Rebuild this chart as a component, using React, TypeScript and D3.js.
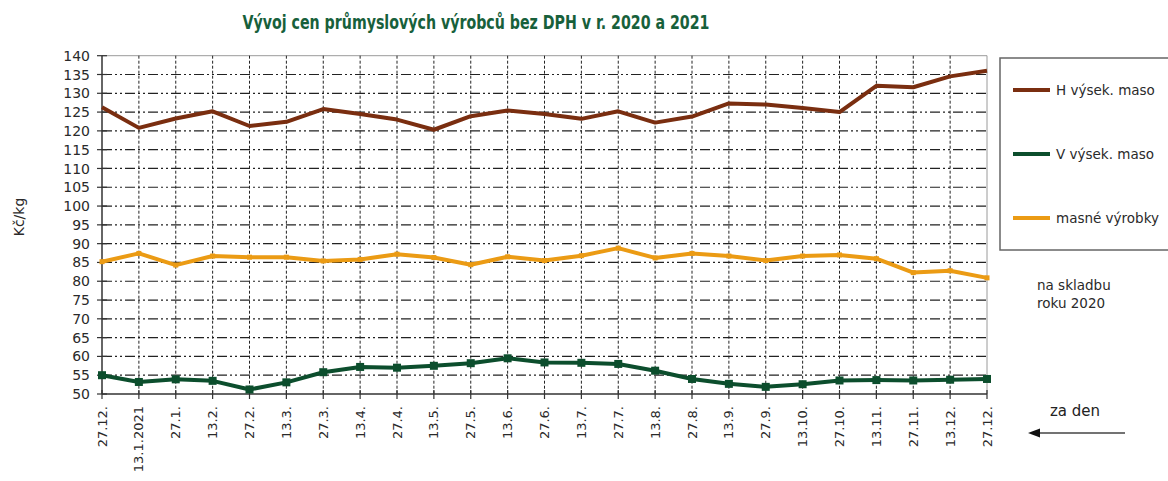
import { useEffect, useRef } from "react";
import * as d3 from "d3";

const dates = [
  "27.12.", "13.1.2021", "27.1.", "13.2.", "27.2.", "13.3.", "27.3.", "13.4.", "27.4.",
  "13.5.", "27.5.", "13.6.", "27.6.", "13.7.", "27.7.", "13.8.", "27.8.", "13.9.",
  "27.9.", "13.10.", "27.10.", "13.11.", "27.11.", "13.12.", "27.12.",
];

const hVysek = [
  126.3, 120.8, 123.3, 125.2, 121.3, 122.4, 125.8, 124.5, 123.0, 120.3, 123.9, 125.4, 124.5,
  123.2, 125.2, 122.2, 123.8, 127.3, 127.0, 126.1, 125.0, 132.0, 131.6, 134.5, 136.0,
];

const vVysek = [
  55.0, 53.2, 53.9, 53.5, 51.2, 53.1, 55.8, 57.2, 57.0, 57.5, 58.2, 59.5, 58.4,
  58.3, 58.0, 56.2, 54.0, 52.7, 51.9, 52.6, 53.6, 53.7, 53.6, 53.8, 54.0,
];

const masne = [
  85.2, 87.4, 84.3, 86.7, 86.4, 86.4, 85.4, 85.8, 87.2, 86.3, 84.4, 86.5, 85.5,
  86.8, 88.8, 86.2, 87.4, 86.7, 85.5, 86.7, 87.0, 86.0, 82.3, 82.8, 80.9,
];

const yTicks = d3.range(50, 141, 5);

const series = [
  { name: "H výsek. maso", values: hVysek, color: "#7a2e10", marker: 0 },
  { name: "V výsek. maso", values: vVysek, color: "#0c4e2d", marker: 8 },
  { name: "masné výrobky", values: masne, color: "#eb9b14", marker: 5 },
];

export default function App() {
  const ref = useRef<SVGSVGElement | null>(null);

  useEffect(() => {
    if (!ref.current) return;
    const svg = d3.select(ref.current);
    svg.selectAll("*").remove();

    const left = 102, right = 987, top = 55.7, bottom = 394;
    const font = "DejaVu Sans, Verdana, sans-serif";

    const x = d3.scalePoint<string>().domain(dates.map((_, i) => String(i))).range([left, right]);
    const y = d3.scaleLinear().domain([50, 140]).range([bottom, top]);

    // title
    svg.append("text")
      .attr("x", 476)
      .attr("y", 29)
      .attr("text-anchor", "middle")
      .attr("font-family", "DejaVu Sans Condensed, DejaVu Sans, sans-serif")
      .attr("font-weight", "bold")
      .attr("font-size", 20)
      .attr("fill", "#17603b")
      .attr("textLength", 467)
      .attr("lengthAdjust", "spacingAndGlyphs")
      .text("Vývoj cen průmyslových výrobců bez DPH v r. 2020 a 2021");

    // plot frame (top/right)
    svg.append("path")
      .attr("d", `M${left},${top}H${right}V${bottom}`)
      .attr("fill", "none")
      .attr("stroke", "#9a9a9a")
      .attr("stroke-width", 1);

    // horizontal grid
    svg.append("g")
      .selectAll("line")
      .data(yTicks.filter((t) => t > 50 && t < 140))
      .join("line")
      .attr("x1", left).attr("x2", right)
      .attr("y1", (d) => y(d)).attr("y2", (d) => y(d))
      .attr("stroke", "#222")
      .attr("stroke-width", 1.2)
      .attr("stroke-dasharray", "10,3,2,3,2,3");

    // vertical grid
    svg.append("g")
      .selectAll("line")
      .data(dates.map((_, i) => String(i)).slice(1, -1))
      .join("line")
      .attr("x1", (d) => x(d)!).attr("x2", (d) => x(d)!)
      .attr("y1", top).attr("y2", bottom)
      .attr("stroke", "#222")
      .attr("stroke-width", 1)
      .attr("stroke-dasharray", "3,2");

    // y axis
    const yAxis = svg.append("g");
    yAxis.append("line")
      .attr("x1", left).attr("x2", left).attr("y1", top).attr("y2", bottom)
      .attr("stroke", "#333").attr("stroke-width", 1.5);
    yAxis.selectAll("line.tick")
      .data(yTicks)
      .join("line")
      .attr("class", "tick")
      .attr("x1", left - 5).attr("x2", left + 5)
      .attr("y1", (d) => y(d)).attr("y2", (d) => y(d))
      .attr("stroke", "#333").attr("stroke-width", 1.2);
    yAxis.selectAll("text")
      .data(yTicks)
      .join("text")
      .attr("x", left - 12)
      .attr("y", (d) => y(d))
      .attr("dy", "0.36em")
      .attr("text-anchor", "end")
      .attr("font-family", font)
      .attr("font-size", 14)
      .attr("fill", "#2a2a2a")
      .text((d) => d);

    svg.append("text")
      .attr("transform", `translate(24,217) rotate(-90)`)
      .attr("text-anchor", "middle")
      .attr("font-family", font)
      .attr("font-size", 14)
      .attr("fill", "#2a2a2a")
      .text("Kč/kg");

    // x axis
    const xAxis = svg.append("g");
    xAxis.append("line")
      .attr("x1", left).attr("x2", right).attr("y1", bottom).attr("y2", bottom)
      .attr("stroke", "#333").attr("stroke-width", 1.5);
    xAxis.selectAll("line.tick")
      .data(dates.map((_, i) => String(i)))
      .join("line")
      .attr("class", "tick")
      .attr("x1", (d) => x(d)!).attr("x2", (d) => x(d)!)
      .attr("y1", bottom - 4).attr("y2", bottom + 5)
      .attr("stroke", "#333").attr("stroke-width", 1.2);
    xAxis.selectAll("text")
      .data(dates)
      .join("text")
      .attr("transform", (_, i) => `translate(${x(String(i))! + 4.5},${bottom + 12}) rotate(-90)`)
      .attr("text-anchor", "end")
      .attr("font-family", font)
      .attr("font-size", 13)
      .attr("fill", "#2a2a2a")
      .text((d) => d);

    // lines
    const line = d3.line<number>()
      .x((_, i) => x(String(i))!)
      .y((d) => y(d));

    series.forEach((s) => {
      svg.append("path")
        .datum(s.values)
        .attr("d", line)
        .attr("fill", "none")
        .attr("stroke", s.color)
        .attr("stroke-width", 4)
        .attr("stroke-linejoin", "round");
      if (s.marker > 0) {
        svg.append("g")
          .selectAll("rect")
          .data(s.values)
          .join("rect")
          .attr("x", (_, i) => x(String(i))! - s.marker / 2)
          .attr("y", (d) => y(d) - s.marker / 2)
          .attr("width", s.marker)
          .attr("height", s.marker)
          .attr("fill", s.color);
      }
    });

    // legend
    svg.append("rect")
      .attr("x", 1000).attr("y", 58)
      .attr("width", 180).attr("height", 192)
      .attr("fill", "white")
      .attr("stroke", "#666")
      .attr("stroke-width", 1.5);
    const legendY = [90, 154, 218];
    series.forEach((s, i) => {
      svg.append("line")
        .attr("x1", 1013).attr("x2", 1050)
        .attr("y1", legendY[i]).attr("y2", legendY[i])
        .attr("stroke", s.color).attr("stroke-width", 4);
      svg.append("text")
        .attr("x", 1056).attr("y", legendY[i])
        .attr("dy", "0.35em")
        .attr("font-family", font)
        .attr("font-size", 13.5)
        .attr("fill", "#2a2a2a")
        .text(s.name);
    });

    const note = svg.append("text")
      .attr("font-family", font)
      .attr("font-size", 13.5)
      .attr("fill", "#2a2a2a");
    note.append("tspan").attr("x", 1037).attr("y", 290).text("na skladbu");
    note.append("tspan").attr("x", 1037).attr("y", 308).text("roku 2020");

    svg.append("text")
      .attr("x", 1050).attr("y", 416)
      .attr("font-family", font)
      .attr("font-size", 15)
      .attr("fill", "#222")
      .text("za den");

    svg.append("line")
      .attr("x1", 1125).attr("x2", 1036).attr("y1", 433).attr("y2", 433)
      .attr("stroke", "#444").attr("stroke-width", 1.5);
    svg.append("path")
      .attr("d", "M1028,433L1040,428.5L1040,437.5Z")
      .attr("fill", "#111");
  }, []);

  return (
    <svg
      ref={ref}
      width={1168}
      height={481}
      style={{ position: "absolute", left: 0, top: 0, background: "white" }}
    />
  );
}
